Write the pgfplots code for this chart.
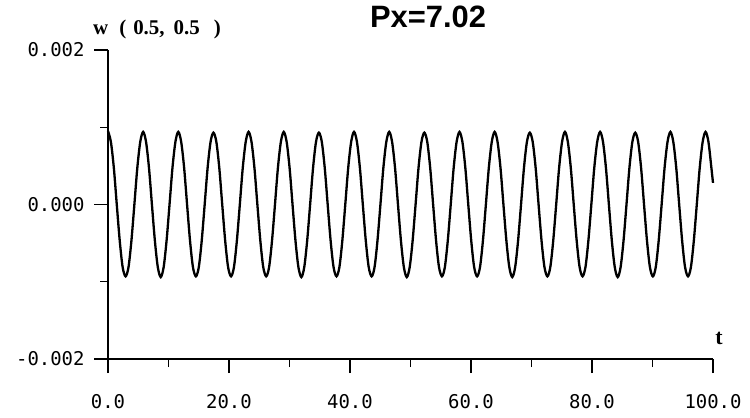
\documentclass[border=0pt]{standalone}
\usepackage{fontspec}
\setmainfont{Liberation Serif}
\newfontfamily\monofont{DejaVu Sans Mono}
\newfontfamily\titlefont{Liberation Sans}
\usepackage{pgfplots}
\usepackage{pgfplotstable}
\pgfplotsset{compat=1.18}

\pgfplotstableread{
t w
0.00 0.95
0.48 0.81
0.97 0.47
1.45 0.00
1.94 -0.47
2.42 -0.81
2.91 -0.93
3.39 -0.81
3.87 -0.47
4.36 0.00
4.84 0.47
5.33 0.81
5.81 0.94
6.29 0.81
6.78 0.47
7.26 0.00
7.75 -0.47
8.23 -0.81
8.72 -0.94
9.20 -0.81
9.68 -0.47
10.17 0.00
10.65 0.47
11.14 0.81
11.62 0.94
12.10 0.81
12.59 0.47
13.07 0.00
13.56 -0.47
14.04 -0.81
14.53 -0.93
15.01 -0.81
15.49 -0.47
15.98 0.00
16.46 0.47
16.95 0.81
17.43 0.93
17.91 0.81
18.40 0.47
18.88 0.00
19.37 -0.47
19.85 -0.81
20.34 -0.93
20.82 -0.81
21.30 -0.47
21.79 0.00
22.27 0.47
22.76 0.81
23.24 0.94
23.72 0.81
24.21 0.47
24.69 0.00
25.18 -0.47
25.66 -0.81
26.15 -0.93
26.63 -0.81
27.11 -0.47
27.60 0.00
28.08 0.47
28.57 0.81
29.05 0.94
29.53 0.81
30.02 0.47
30.50 0.00
30.99 -0.47
31.47 -0.81
31.96 -0.94
32.44 -0.81
32.92 -0.47
33.41 0.00
33.89 0.47
34.38 0.81
34.86 0.93
35.34 0.81
35.83 0.47
36.31 0.00
36.80 -0.47
37.28 -0.81
37.77 -0.93
38.25 -0.81
38.73 -0.47
39.22 0.00
39.70 0.47
40.19 0.81
40.67 0.94
41.15 0.81
41.64 0.47
42.12 0.00
42.61 -0.47
43.09 -0.81
43.58 -0.93
44.06 -0.81
44.54 -0.47
45.03 0.00
45.51 0.47
46.00 0.81
46.48 0.94
46.96 0.81
47.45 0.47
47.93 0.00
48.42 -0.47
48.90 -0.81
49.39 -0.94
49.87 -0.81
50.35 -0.47
50.84 0.00
51.32 0.47
51.81 0.81
52.29 0.93
52.77 0.81
53.26 0.47
53.74 0.00
54.23 -0.47
54.71 -0.81
55.20 -0.93
55.68 -0.81
56.16 -0.47
56.65 0.00
57.13 0.47
57.62 0.81
58.10 0.94
58.58 0.81
59.07 0.47
59.55 0.00
60.04 -0.47
60.52 -0.81
61.01 -0.93
61.49 -0.81
61.97 -0.47
62.46 0.00
62.94 0.47
63.43 0.81
63.91 0.94
64.39 0.81
64.88 0.47
65.36 0.00
65.85 -0.47
66.33 -0.81
66.82 -0.94
67.30 -0.81
67.78 -0.47
68.27 0.00
68.75 0.47
69.24 0.81
69.72 0.93
70.20 0.81
70.69 0.47
71.17 0.00
71.66 -0.47
72.14 -0.81
72.63 -0.93
73.11 -0.81
73.59 -0.47
74.08 0.00
74.56 0.47
75.05 0.81
75.53 0.94
76.01 0.81
76.50 0.47
76.98 0.00
77.47 -0.47
77.95 -0.81
78.44 -0.93
78.92 -0.81
79.40 -0.47
79.89 0.00
80.37 0.47
80.86 0.81
81.34 0.94
81.82 0.81
82.31 0.47
82.79 0.00
83.28 -0.47
83.76 -0.81
84.25 -0.94
84.73 -0.81
85.21 -0.47
85.70 0.00
86.18 0.47
86.67 0.81
87.15 0.93
87.63 0.81
88.12 0.47
88.60 0.00
89.09 -0.47
89.57 -0.81
90.06 -0.93
90.54 -0.81
91.02 -0.47
91.51 0.00
91.99 0.47
92.48 0.81
92.96 0.94
93.44 0.81
93.93 0.47
94.41 0.00
94.90 -0.47
95.38 -0.81
95.87 -0.93
96.35 -0.81
96.83 -0.47
97.32 0.00
97.80 0.47
98.29 0.81
98.77 0.94
99.25 0.81
99.74 0.47
100.00 0.28
}\wdata

\begin{document}
\begin{tikzpicture}
\path[use as bounding box] (-108bp,-59bp) rectangle (642bp,359bp);
\begin{axis}[
  at={(0,0)}, anchor=south west,
  scale only axis, width=605bp, height=309bp,
  xmin=0, xmax=100, ymin=-2, ymax=2,
  axis lines*=left,
  axis line style={line width=1.3bp, black},
  xtick={0,20,40,60,80,100},
  xticklabels={0.0,20.0,40.0,60.0,80.0,100.0},
  minor xtick={10,30,50,70,90},
  ytick={-2,0,2},
  yticklabels={-0.002,0.000,0.002},
  minor ytick={-1,1},
  tick align=outside,
  major tick length=14bp, minor tick length=8bp,
  every tick/.style={black, line width=1.2bp},
  ticklabel style={font=\monofont\fontsize{19}{19}\selectfont, text=black},
  xticklabel style={yshift=-18bp},
  yticklabel style={xshift=-6bp},
  clip=false,
]
\addplot[black, line width=2.3bp, smooth] table[x=t, y=w] {\wdata};
\node[anchor=center, font=\titlefont\bfseries\fontsize{31}{31}\selectfont] at (rel axis cs:0.529,1) [yshift=33bp] {Px=7.02};
\node[anchor=west, font=\bfseries\fontsize{21}{21}\selectfont, inner sep=0pt] at (rel axis cs:0,1) [xshift=-15bp, yshift=21bp] {w\hspace{11bp}(\hspace{7bp}0.5,\hspace{9bp}0.5\hspace{14bp})};
\node[anchor=center, font=\bfseries\fontsize{22}{22}\selectfont, inner sep=0pt] at (rel axis cs:1,0) [xshift=6bp, yshift=21bp] {t};
\end{axis}
\end{tikzpicture}
\end{document}
